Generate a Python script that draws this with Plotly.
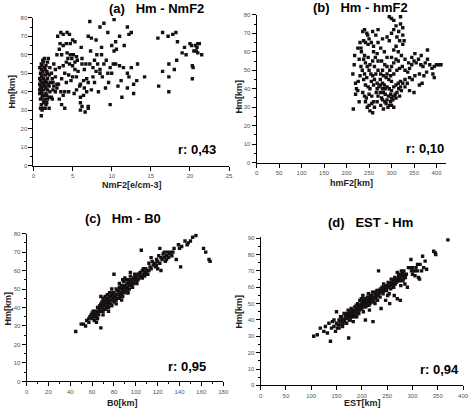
import plotly.graph_objects as go

W, H = 475, 414

# ---------------- data ----------------
a_pts = [(1.0,27),(1.1,30),(1.2,31),(1.0,33),(1.3,34),(0.9,36),(1.1,37),(1.5,36),(1.8,36),(2.0,37),(2.3,37),(1.2,38),(0.8,39),(1.6,39),(1.0,40),(1.3,41),(1.8,41),(0.9,42),(1.2,43),(1.5,43),(2.0,43),(0.8,44),(1.1,45),(1.4,45),(1.7,45),(2.2,45),(2.5,45),(0.9,46),(1.3,47),(1.8,47),(1.0,48),(1.5,49),(2.0,49),(0.9,50),(1.2,51),(1.7,51),(1.0,52),(1.4,53),(1.1,54),(1.6,54),(1.0,55),(1.3,56),(1.8,56),(1.2,57),(2.3,50),(2.5,41),(2.8,40),(3.0,44),(2.4,36),(1.5,31),(2.0,31),
(0.8,41),(1.1,39),(1.4,38),(1.7,38),(1.0,42),(1.6,42),(1.3,44),(1.9,44),(0.8,47),(1.5,46),(1.1,49),(1.8,50),(0.8,53),(1.5,52),(2.1,53),(1.3,35),(1.7,34),(2.1,40),(2.4,47),(2.6,43),(1.4,58),(1.9,58),(0.9,31),(1.6,33),
(3.1,70),(3.5,72),(3.8,71),(4.3,72),(4.6,71),(3.4,66),(3.8,65),(4.2,66),(4.7,66),(5.0,68),(5.3,67),(3.3,63),(3.6,60),(4.3,61),(4.7,60),(5.1,60),(5.5,59),(6.1,64),(6.2,58),(6.7,55),(7.2,78),(7.0,70),(7.4,69),(8.0,68),(8.5,75),(9.0,77),(9.5,72),(10.3,79),(10.5,67),(10.3,62),(10.6,63),(10.0,65),(11.0,70),(11.6,65),(12.0,75),(12.2,71),(12.5,72),(7.3,62),(8.7,64),(9.3,57),(9.8,53),(10.2,55),(10.5,55),(11.0,54),(11.5,53),(12.0,50),(12.5,53),(13.3,55),(12.2,48),(12.8,44),(13.2,46),(14.2,48),(11.2,46),(10.8,43),(12.0,42),(12.8,39),(11.3,37),(9.8,33),(9.6,45),(9.2,42),(8.5,52),(8.0,51),(7.6,53),(7.2,55),(7.8,45),(7.4,41),(8.3,40),(8.8,48),(8.5,50),(6.8,47),(6.4,46),(6.0,44),(5.7,51),(5.3,52),(5.0,54),(4.6,55),(4.2,56),(3.8,54),(3.3,53),(4.0,50),(4.5,49),(5.0,48),(5.5,48),(4.8,46),(4.2,45),(3.6,47),(3.2,44),(3.0,42),(3.5,40),(4.0,40),(4.5,40),(3.8,38),(3.3,36),(3.6,33),(4.0,31),(5.2,39),(5.5,41),(5.9,43),(6.0,37),(6.0,34),(6.2,32),(6.0,30),(6.6,29),(7.0,32),(7.0,31),(6.4,38),(6.8,40),(7.6,48),(7.8,57),(8.2,55),(9.0,55),(9.5,50),(10.0,50),(2.6,55),(2.8,52),(5.6,57),(6.2,55),(6.5,52),(7.0,45),(6.5,42),(8.1,60),(8.7,60),(4.4,58),(4.9,58),(5.3,56),(3.0,60),(2.8,48),
(15.9,69),(16.5,72),(17.2,70),(17.8,71),(18.2,72),(18.4,67),(19.0,61),(19.5,60),(20.0,66),(20.2,65),(20.7,65),(21.0,66),(20.9,64),(21.2,66),(20.8,62),(21.5,60),(20.5,62),(18.3,57),(17.3,55),(16.0,43),(16.5,51),(17.3,48),(17.3,40),(18.0,52),(20.3,47),(20.3,54),(20.4,53),(21.0,61),(19.3,64)]

b_pts = [(215,29),(217,53),(214,48),(218,58),(220,43),(222,40),(220,37),(225,39),(228,33),(226,44),(230,47),(232,52),(228,56),(233,60),(225,62),(230,65),(236,71),(240,72),(245,70),(247,69),(250,67),(238,66),(242,65),(248,64),(255,65),(260,63),(235,50),(240,48),(245,46),(238,45),(242,42),(248,41),(252,40),(236,38),(240,36),(244,35),(250,37),(256,36),(260,33),(256,32),(250,31),(242,33),(246,30),(252,28),(258,27),(262,30),(266,38),(270,36),(275,38),(278,35),(280,34),(285,33),(288,32),(292,30),(296,31),(298,33),(300,35),(303,34),(305,36),(308,37),(312,38),(316,40),(320,41),(325,43),(330,45),(322,39),(318,36),(310,35),(282,38),(286,40),(290,41),(295,40),(300,39),(305,41),(310,42),(315,43),(320,44),(272,41),(268,43),(262,45),(258,47),(254,48),(250,50),(246,52),(242,54),(238,56),(252,53),(258,55),(264,57),(268,59),(262,52),(270,50),(276,48),(282,47),(288,46),(294,45),(300,44),(275,45),(280,43),(284,42),(290,48),(296,50),(300,52),(305,54),(310,56),(315,55),(318,51),(324,52),(330,50),(336,49),(340,51),(345,53),(350,55),(355,54),(360,56),(365,53),(370,52),(375,54),(380,56),(385,53),(390,51),(395,52),(400,53),(405,53),(410,53),(378,49),(372,47),(362,48),(352,47),(346,45),(340,46),(335,43),(338,54),(345,57),(352,59),(366,58),(380,61),(392,48),(395,46),(362,42),(350,38),(368,43),(340,39),(330,41),(285,53),(278,55),(270,55),(290,57),(300,57),(284,60),(276,62),(270,65),(280,67),(290,68),(295,66),(300,70),(305,72),(310,74),(316,71),(320,75),(325,73),(300,78),(295,79),(305,77),(320,79),(312,68),(318,66),(325,64),(310,63),(305,61),(315,60),(322,58),(330,56),(265,69),(258,71),(270,72),(325,69),(328,66),(240,58),(232,62),(248,57),(260,60),(265,48),(280,50),(290,52),(298,47),(305,48),(312,50),(260,42),(255,44),(268,40),(275,42),(280,40),(286,37),(293,36),(298,37),(300,31),(305,30),(290,34),(276,31),(282,29),(268,33)]

c_pts = [(45,27),(50,31),(52,31),(54,30),(55,33),(57,32),(58,35),(60,34),(60,37),(62,33),(62,36),(63,38),(64,35),(65,37),(65,40),(66,36),(67,39),(68,29),(68,42),(68,46),(69,40),(70,38),(70,43),(71,41),(72,39),(72,44),(73,42),(74,45),(75,40),(75,43),(76,46),(77,44),(78,41),(78,47),(79,45),(80,43),(80,48),(81,46),(82,50),(82,44),(83,47),(84,49),(85,45),(85,51),(86,48),(87,52),(88,50),(88,46),(89,54),(90,49),(90,52),(91,55),(92,51),(93,48),(93,53),(94,50),(95,54),(95,57),(96,52),(97,55),(98,53),(99,56),(100,54),(100,57),(101,55),(102,58),(103,56),(104,59),(105,57),(105,71),(106,60),(107,58),(108,59),(109,61),(110,60),(111,58),(112,64),(113,62),(114,67),(115,65),(116,63),(118,62),(119,66),(120,61),(121,68),(122,64),(122,72),(123,60),(124,66),(125,69),(126,67),(127,65),(128,68),(129,70),(130,67),(132,70),(134,70),(135,72),(137,66),(139,74),(140,72),(141,62),(142,73),(145,76),(147,74),(148,75),(150,76),(152,78),(155,79),(162,72),(164,70),(167,66),(168,65),
(57,34),(59,36),(61,35),(63,37),(66,38),(67,41),(69,43),(71,44),(73,40),(74,43),(76,42),(77,46),(79,48),(81,44),(83,45),(84,47),(86,50),(87,47),(89,51),(91,50),(92,53),(94,52),(96,55),(97,51),(98,55),(99,58),(101,53),(103,58),(106,56),(108,57),(110,58),(80,58),(85,53),(78,50),(76,48),(90,56),(95,59),(88,55),(74,47),(72,46),(70,45),(65,34),(64,32),(70,36),(75,38),(82,42),(87,44),(92,48),(97,53),
(61,38),(63,35),(66,40),(68,38),(69,41),(71,39),(72,42),(74,41),(76,44),(77,42),(79,44),(80,46),(82,47),(83,49),(85,48),(86,46),(88,49),(89,48),(90,51),(92,50),(93,55),(94,54),(96,53),(98,56),(100,56),(102,55),(104,57),(107,61),(109,59),(112,60),(114,61),(117,64),(119,63),(120,65),(123,67),(126,70),(128,66),(131,69),(133,68)]

d_pts = [(105,30),(112,31),(118,35),(125,33),(128,36),(132,32),(135,38),(138,27),(140,35),(142,39),(145,36),(148,33),(150,38),(150,45),(152,35),(155,40),(158,37),(160,42),(162,36),(163,40),(165,44),(167,41),(170,38),(172,43),(174,29),(175,40),(176,45),(178,42),(180,44),(182,46),(183,39),(185,42),(186,48),(188,45),(190,47),(190,42),(192,50),(194,44),(195,46),(196,52),(198,49),(200,47),(200,51),(202,55),(203,45),(205,50),(206,53),(207,40),(208,48),(210,52),(212,50),(213,56),(215,46),(216,53),(218,51),(220,55),(222,39),(223,54),(225,57),(226,50),(228,53),(230,58),(232,55),(233,70),(235,57),(237,59),(238,47),(240,60),(242,56),(243,62),(245,58),(247,52),(248,61),(250,60),(252,63),(254,56),(255,50),(256,62),(258,65),(260,61),(262,64),(264,55),(265,66),(268,63),(270,69),(270,53),(272,66),(274,68),(275,64),(276,52),(278,70),(280,67),(282,65),(284,68),(285,62),(290,60),(292,72),(295,72),(297,77),(298,70),(300,68),(302,70),(305,67),(307,72),(310,74),(312,66),(314,65),(315,74),(318,70),(320,79),(322,72),(325,76),(328,71),(342,82),(345,81),(346,80),(370,89),
(145,40),(155,35),(158,42),(163,38),(168,43),(170,41),(173,46),(177,40),(179,47),(181,43),(184,45),(187,43),(189,49),(191,45),(193,48),(197,47),(199,53),(201,49),(204,52),(209,51),(211,54),(214,49),(217,55),(219,52),(221,57),(224,51),(227,56),(229,55),(231,52),(234,56),(236,54),(239,58),(241,57),(244,59),(246,61),(249,58),(251,55),(253,60),(257,59),(259,63),(263,60),(266,62),(269,65),(273,67),(277,61),(281,64),(283,70),(286,66),(288,68),
(153,37),(157,39),(161,40),(166,39),(169,42),(171,44),(174,42),(177,44),(180,42),(182,44),(185,45),(187,46),(190,45),(193,46),(195,49),(198,47),(200,49),(203,50),(205,48),(207,51),(210,49),(213,52),(216,50),(219,54),(222,53),(226,54),(228,57),(233,58),(238,57),(242,59),(247,60),(252,61),(257,61),(261,62),(267,64),(271,64),(276,66),(280,69),(284,66),(300,72),(305,70),(310,70)]

titles = ["(a)   Hm - NmF2", "(b)   Hm - hmF2", "(c)   Hm - B0", "(d)   EST - Hm"]
x_titles = ["NmF2[e/cm-3]", "hmF2[km]", "B0[km]", "EST[km]"]
r_labels = ["r: 0,43", "r: 0,10", "r: 0,95", "r: 0,94"]

# ---------------- layout helpers ----------------
def px(x): return x / W
def py(y): return 1 - y / H

# plot areas in pixels: (left, right, top, bottom)
boxes = [(32, 231, 15, 165), (259, 452, 12, 162), (25, 225, 234, 384), (263, 469, 237, 388)]
xranges = [[0, 25], [0, 422], [0, 180], [0, 400]]
xdticks = [5, 50, 20, 50]
yranges = [[0, 80], [0, 80], [0, 80], [0, 91]]
title_pos = [(157, 6), (365, 5), (123, 219), (375, 223)]
ytitle_pos = [(10, 90), (241, 95), (6, 310), (242, 313)]
xtitle_pos = [(132, 185), (355, 183), (123, 406), (367, 406)]
r_pos = [(198, 149), (430, 148), (188, 369), (445, 372)]

fig = go.Figure()
all_pts = [a_pts, b_pts, c_pts, d_pts]
ann = []
for i in range(4):
    n = "" if i == 0 else str(i + 1)
    pts = all_pts[i]
    fig.add_trace(go.Scatter(
        x=[p[0] for p in pts], y=[p[1] for p in pts], mode="markers",
        marker=dict(symbol="square", size=3.4, color="#161010", line=dict(width=0)),
        xaxis="x" + n, yaxis="y" + n, showlegend=False, hoverinfo="skip"))
    l, r, t, b = boxes[i]
    axcommon = dict(showline=True, linecolor="black", linewidth=1, ticks="outside",
                    ticklen=4, tickwidth=1, tickcolor="black", showgrid=False, zeroline=False,
                    tickfont=dict(family="Arial", size=6, color="#555555"),
                    minor=dict(ticks="outside", ticklen=2, tickcolor="black", nticks=2))
    fig.update_layout(**{
        "xaxis" + n: dict(domain=[px(l), px(r)], range=xranges[i], dtick=xdticks[i],
                          anchor="y" + n, **axcommon),
        "yaxis" + n: dict(domain=[py(b), py(t)], range=yranges[i], dtick=10,
                          anchor="x" + n, **axcommon),
    })
    ann.append(dict(x=px(title_pos[i][0]), y=py(title_pos[i][1]), text="<b>" + titles[i] + "</b>",
                    font=dict(family="Arial", size=13, color="black")))
    ann.append(dict(x=px(ytitle_pos[i][0]), y=py(ytitle_pos[i][1]), text="<b>Hm[km]</b>", textangle=-90,
                    font=dict(family="Arial", size=9, color="#222222")))
    ann.append(dict(x=px(xtitle_pos[i][0]), y=py(xtitle_pos[i][1]), text="<b>" + x_titles[i] + "</b>",
                    font=dict(family="Arial", size=9, color="#222222")))
    ann.append(dict(x=px(r_pos[i][0]), y=py(r_pos[i][1]), text="<b>" + r_labels[i] + "</b>",
                    font=dict(family="Arial", size=13, color="black")))

for a in ann:
    a.update(xref="paper", yref="paper", showarrow=False, xanchor="center", yanchor="middle")

fig.update_layout(width=W, height=H, margin=dict(l=0, r=0, t=0, b=0),
                  paper_bgcolor="white", plot_bgcolor="white", annotations=ann)
fig.write_html("out.html", config={"displayModeBar": False},
               post_script="document.body.style.margin='0';document.body.style.padding='0';"
                           "document.body.style.overflow='hidden';")
